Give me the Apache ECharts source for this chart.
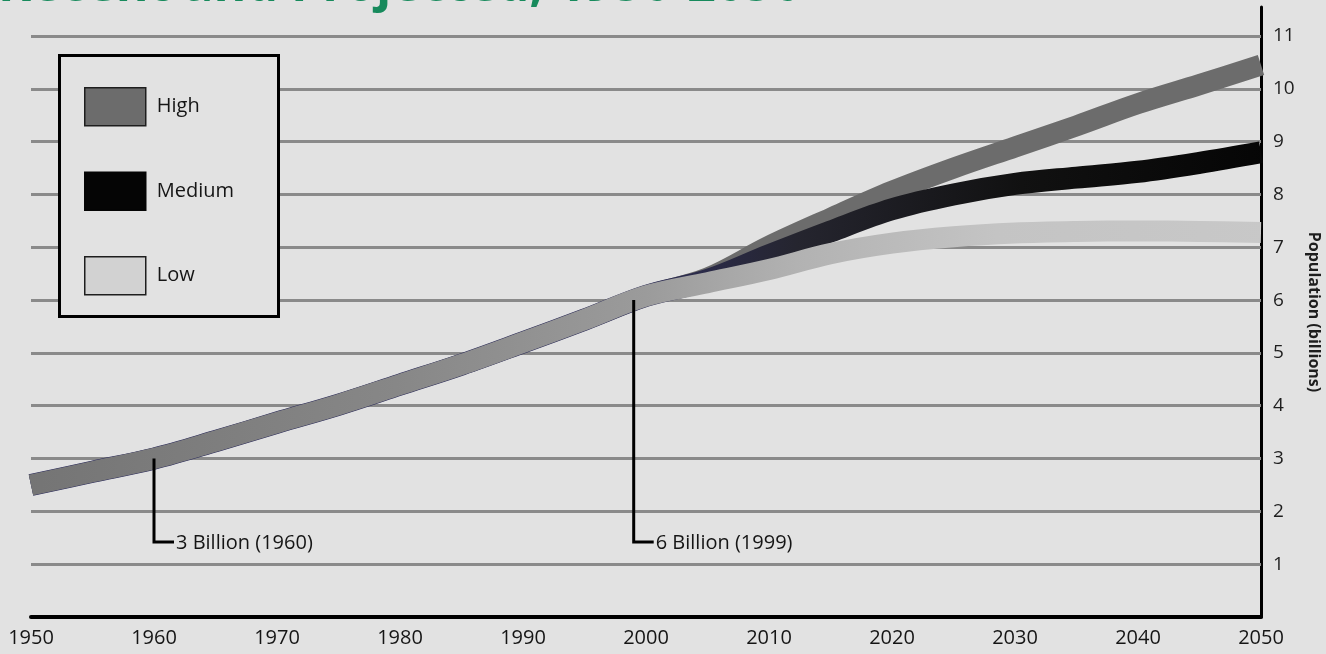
<!DOCTYPE html>
<html>
<head>
<meta charset="utf-8">
<script src="https://cdn.jsdelivr.net/npm/echarts@6/dist/echarts.min.js"></script>
<style>
  html, body { margin: 0; padding: 0; background: #e2e2e2; }
  #chart { width: 1326px; height: 654px; }
</style>
</head>
<body>
<div id="chart"></div>
<script>
// ---------- data ----------
const years = [1950, 1955, 1960, 1965, 1970, 1975, 1980, 1985, 1990, 1995, 2000, 2005,
               2010, 2015, 2020, 2025, 2030, 2035, 2040, 2045, 2050];
const highValues   = [2.5, 2.75, 3.0, 3.33, 3.68, 4.02, 4.4, 4.78, 5.2, 5.63, 6.08, 6.42,
                      7.02, 7.55, 8.06, 8.5, 8.9, 9.3, 9.72, 10.08, 10.45];
const mediumValues = [2.5, 2.75, 3.0, 3.33, 3.68, 4.02, 4.4, 4.78, 5.2, 5.63, 6.08, 6.38,
                      6.85, 7.3, 7.72, 8.0, 8.2, 8.32, 8.43, 8.6, 8.8];
const lowValues    = [2.5, 2.75, 3.0, 3.33, 3.68, 4.02, 4.4, 4.78, 5.2, 5.63, 6.08, 6.33,
                      6.58, 6.88, 7.08, 7.2, 7.27, 7.3, 7.31, 7.3, 7.28];
const seriesNames = ['High', 'Medium', 'Low'];
const gridValues = [1, 2, 3, 4, 5, 6, 7, 8, 9, 10, 11];
const xTicks = [1950, 1960, 1970, 1980, 1990, 2000, 2010, 2020, 2030, 2040, 2050];
const annoYears = [1960, 1999];
const annoValues = [3.0, 6.0];
const annoLabels = ['3 Billion (1960)', '6 Billion (1999)'];
const annoLevel = 1.42;
const titleText = 'Recent and Projected, 1950-2050';
const yAxisName = 'Population (billions)';

// ---------- chart ----------
const FONT = '"Open Sans", "Noto Sans", sans-serif';
const chart = echarts.init(document.getElementById('chart'), null, { renderer: 'canvas' });

function pairs(vals) { return years.map((y, i) => [y, vals[i]]); }

const grad = (stops) => ({ type: 'linear', x: 0, y: 0, x2: 1, y2: 0,
  colorStops: stops.map(s => ({ offset: s[0], color: s[1] })) });

const lowColor = grad([[0, '#747474'], [0.3, '#878787'], [0.5, '#9b9b9b'], [0.62, '#b2b2b2'], [0.78, '#c4c4c4'], [1, '#c8c8c8']]);
const medColor = grad([[0, '#2e2e5e'], [0.5, '#2e2e58'], [0.62, '#25252f'], [0.8, '#111111'], [1, '#050505']]);

const option = {
  backgroundColor: '#e2e2e2',
  animation: false,
  grid: { left: 31, right: 65, top: 7, bottom: 37, containLabel: false, outerBoundsMode: 'none' },
  legend: {
    orient: 'vertical', left: 79, top: 82, z: 60,
    itemWidth: 61, itemHeight: 38, itemGap: 45,
    icon: 'rect',
    textStyle: { fontFamily: FONT, fontSize: 20, color: '#151515', padding: [0, 0, 0, 6] },
    data: [
      { name: 'High',   itemStyle: { color: '#6c6c6c', borderColor: '#1e1e1e', borderWidth: 1.5 } },
      { name: 'Medium', itemStyle: { color: '#050505', borderColor: '#050505', borderWidth: 1.5 } },
      { name: 'Low',    itemStyle: { color: '#d2d2d2', borderColor: '#1e1e1e', borderWidth: 1.5 } }
    ]
  },
  xAxis: {
    type: 'value', min: 1950, max: 2050, interval: 10,
    axisLine: { show: true, lineStyle: { color: '#000', width: 4 } },
    axisTick: { show: false },
    splitLine: { show: false },
    axisLabel: { margin: 11, fontFamily: FONT, fontSize: 20, color: '#151515',
      formatter: v => xTicks.indexOf(v) >= 0 ? String(v) : '' }
  },
  yAxis: {
    type: 'value', position: 'right', min: 0, max: 11.55, interval: 1,
    axisLine: { show: true, lineStyle: { color: '#000', width: 3 } },
    axisTick: { show: false },
    splitLine: { show: false },
    axisLabel: { margin: 12, fontFamily: FONT, fontSize: 19, color: '#1e1e1e',
      formatter: v => (Number.isInteger(v) && v > 0) ? String(v) : '' },
    name: yAxisName, nameLocation: 'middle', nameRotate: -90, nameGap: 43,
    nameTextStyle: { fontFamily: FONT, fontSize: 16, fontWeight: 'bold', color: '#1e1e1e' }
  },
  series: [
    {
      name: 'High', type: 'line', data: pairs(highValues), smooth: 0.35, showSymbol: false, z: 3,
      color: '#6c6c6c',
      lineStyle: { color: '#6c6c6c', width: 21, cap: 'butt', join: 'round' },
      markLine: {
        silent: true, symbol: 'none', z: 1,
        label: { show: false },
        lineStyle: { color: '#8a8a8a', width: 3, type: 'solid' },
        data: gridValues.map(v => ({ yAxis: v }))
      }
    },
    {
      name: 'Medium', type: 'line', data: pairs(mediumValues), smooth: 0.35, showSymbol: false, z: 4,
      color: '#050505',
      lineStyle: { color: medColor, width: 22, cap: 'butt', join: 'round' }
    },
    {
      name: 'Low', type: 'line', data: pairs(lowValues), smooth: 0.35, showSymbol: false, z: 5,
      color: '#d2d2d2',
      lineStyle: { color: lowColor, width: 21, cap: 'butt', join: 'round' }
    }
  ]
};
chart.setOption(option);

// ---------- annotations, legend frame, title ----------
const graphics = [];
graphics.push({
  type: 'rect', id: 'legendBox', z: 50,
  shape: { x: 59.5, y: 55.5, width: 219, height: 261 },
  style: { fill: '#e2e2e2', stroke: '#000', lineWidth: 3 }
});
annoYears.forEach((yr, i) => {
  const top = chart.convertToPixel({ gridIndex: 0 }, [yr, annoValues[i]]);
  const bot = chart.convertToPixel({ gridIndex: 0 }, [yr, annoLevel]);
  graphics.push({
    type: 'polyline', id: 'anno' + i, z: 40,
    shape: { points: [[top[0], top[1]], [bot[0], bot[1]], [bot[0] + 20, bot[1]]] },
    style: { stroke: '#000', lineWidth: 3, fill: null }
  });
  graphics.push({
    type: 'text', id: 'annoText' + i, z: 40,
    x: bot[0] + 22, y: bot[1] + 1,
    style: { text: annoLabels[i], fontFamily: FONT, fontSize: 20, fill: '#151515', verticalAlign: 'middle', align: 'left' }
  });
});
graphics.push({
  type: 'text', id: 'title', z: 40, x: -2, y: 12,
  style: { text: titleText, fontFamily: FONT, fontSize: 50, fontWeight: 'bold',
    fill: '#178a5c', verticalAlign: 'bottom', align: 'left' }
});
chart.setOption({ graphic: graphics });
</script>
</body>
</html>
